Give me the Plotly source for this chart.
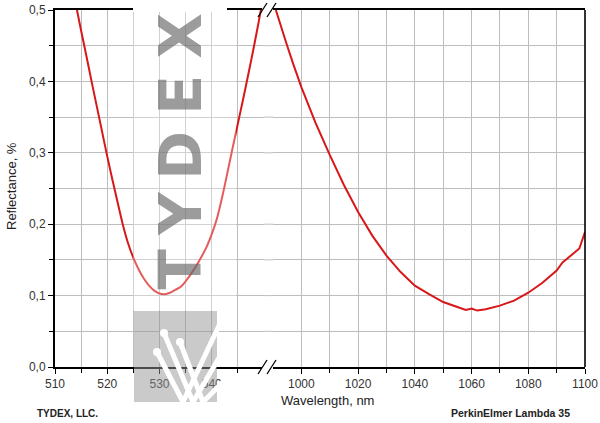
import plotly.graph_objects as go

# ---------------- data ----------------
left_nm = [514.2, 515, 516, 517, 518, 519, 520, 521, 522, 523, 524, 525, 526, 527,
           528, 529, 530, 531, 532, 533, 534, 535, 536, 537, 538, 539, 540, 541,
           542, 543, 544, 545, 546, 547, 548, 549, 549.4]
left_r = [0.500, 0.471, 0.436, 0.400, 0.365, 0.330, 0.295, 0.262, 0.230, 0.199, 0.173,
          0.153, 0.137, 0.124, 0.114, 0.107, 0.103, 0.102, 0.104, 0.108, 0.112, 0.120,
          0.130, 0.141, 0.154, 0.168, 0.186, 0.208, 0.238, 0.272, 0.307, 0.341, 0.375,
          0.410, 0.446, 0.484, 0.500]

right_nm = [991, 993, 995, 997, 1000, 1005, 1010, 1015, 1020, 1025, 1030, 1035, 1040,
            1045, 1050, 1055, 1058, 1060, 1062, 1065, 1070, 1075, 1078, 1080, 1085,
            1090, 1092, 1095, 1098, 1100]
right_r = [0.500, 0.474, 0.450, 0.426, 0.392, 0.342, 0.297, 0.255, 0.217, 0.184, 0.156,
           0.133, 0.114, 0.102, 0.091, 0.084, 0.080, 0.082, 0.079, 0.081, 0.086, 0.093,
           0.100, 0.104, 0.118, 0.135, 0.146, 0.156, 0.166, 0.189]

x_left_ticks = [510, 520, 530, 540]
x_left_minor = [515, 525, 535, 545]
x_right_ticks = [1000, 1020, 1040, 1060, 1080, 1100]
x_right_minor = [1010, 1030, 1050, 1070, 1090]
y_ticks = [0.0, 0.1, 0.2, 0.3, 0.4, 0.5]
y_labels = ["0,0", "0,1", "0,2", "0,3", "0,4", "0,5"]
y_minor = [0.05, 0.15, 0.25, 0.35, 0.45]

# ---------------- layout geometry ----------------
W, H = 600, 423
L, R, T, B = 55, 15, 10, 56
PW, PH = W - L - R, H - T - B


def px(x):
    return (x - L) / PW


def py(y):
    return (H - B - y) / PH


RED = "#d81818"
GRID = "#bdbdbd"
FONT = "Liberation Sans, Arial, sans-serif"

fig = go.Figure()
fig.add_trace(go.Scatter(x=left_nm, y=left_r, mode="lines", xaxis="x", yaxis="y",
                         line=dict(color=RED, width=2, shape="spline", smoothing=0.6),
                         showlegend=False))
fig.add_trace(go.Scatter(x=right_nm, y=right_r, mode="lines", xaxis="x2", yaxis="y",
                         line=dict(color=RED, width=2), showlegend=False))

common_x = dict(showline=True, linecolor="black", linewidth=1.6, mirror=True,
                ticks="outside", ticklen=5, tickwidth=1, tickcolor="black",
                showgrid=True, gridcolor=GRID, gridwidth=1, zeroline=False,
                tickfont=dict(family=FONT, size=12, color="#333"))

fig.update_layout(
    width=W, height=H,
    margin=dict(l=L, r=R, t=T, b=B, autoexpand=False),
    paper_bgcolor="white", plot_bgcolor="white",
    xaxis=dict(domain=[0, px(264)], range=[510, 550], anchor="y", automargin=False,
               tickmode="array", tickvals=x_left_ticks,
               minor=dict(tickmode="array", tickvals=x_left_minor, ticks="outside",
                          ticklen=4, tickcolor="black", showgrid=True, gridcolor=GRID),
               **common_x),
    xaxis2=dict(domain=[px(273), 1], range=[990, 1100], anchor="y", automargin=False,
                tickmode="array", tickvals=x_right_ticks,
                minor=dict(tickmode="array", tickvals=x_right_minor, ticks="outside",
                           ticklen=4, tickcolor="black", showgrid=True, gridcolor=GRID),
                **common_x),
    yaxis=dict(domain=[0, 1], range=[0, 0.5], anchor="x", automargin=False,
               showline=True, linecolor="black", linewidth=2,
               ticks="outside", ticklen=5, tickcolor="black",
               tickmode="array", tickvals=y_ticks, ticktext=y_labels,
               minor=dict(tickmode="array", tickvals=y_minor, ticks="outside",
                          ticklen=4, tickcolor="black", showgrid=True, gridcolor=GRID),
               showgrid=True, gridcolor=GRID, zeroline=False,
               tickfont=dict(family=FONT, size=12, color="#333")),
)

shapes = []
# horizontal grid continuing across the axis break
for v in y_ticks[1:-1] + y_minor:
    shapes.append(dict(type="line", xref="paper", yref="y", x0=px(264), x1=px(273),
                       y0=v, y1=v, line=dict(color=GRID, width=1), layer="below"))
# right border
shapes.append(dict(type="line", xref="paper", yref="paper", x0=1, x1=1, y0=0, y1=1,
                   line=dict(color="black", width=1.6), layer="above"))
# axis break marks (top and bottom)
for yb in (10, 367):
    shapes.append(dict(type="rect", xref="paper", yref="paper",
                       x0=px(262), x1=px(273), y0=py(yb + 2), y1=py(yb - 2),
                       fillcolor="white", line=dict(width=0), layer="above"))
    for x0 in (258, 267):
        shapes.append(dict(type="line", xref="paper", yref="paper",
                           x0=px(x0), x1=px(x0 + 9), y0=py(yb + 7), y1=py(yb - 7),
                           line=dict(color="black", width=1.3), layer="above"))

# watermark: translucent white column
shapes.append(dict(type="rect", xref="paper", yref="paper",
                   x0=px(133), x1=px(236), y0=py(310), y1=py(10),
                   fillcolor="rgba(255,255,255,0.3)", line=dict(width=0), layer="above"))
shapes.append(dict(type="rect", xref="paper", yref="paper",
                   x0=px(133), x1=px(227), y0=py(12), y1=py(7),
                   fillcolor="white", line=dict(width=0), layer="above"))
# watermark logo box
shapes.append(dict(type="rect", xref="paper", yref="paper",
                   x0=px(134), x1=px(217), y0=py(402), y1=py(311),
                   fillcolor="rgba(150,150,150,0.5)", line=dict(width=0), layer="above"))
logo_lines = [((157, 352), (183, 402)), ((164, 333), (193, 402)), ((180, 342), (203, 402)),
              ((183, 402), (224, 315)), ((193, 402), (226, 346)), ((203, 402), (227, 378))]
for (a, b) in logo_lines:
    shapes.append(dict(type="line", xref="paper", yref="paper",
                       x0=px(a[0]), y0=py(a[1]), x1=px(b[0]), y1=py(b[1]),
                       line=dict(color="white", width=5), layer="above"))
for (cx, cy) in [(157, 352), (164, 333), (180, 342)]:
    shapes.append(dict(type="circle", xref="paper", yref="paper",
                       x0=px(cx - 4), x1=px(cx + 4), y0=py(cy + 4), y1=py(cy - 4),
                       fillcolor="white", line=dict(width=0), layer="above"))

annotations = []
# watermark letters
for ch, cy in [("T", 269.5), ("Y", 214), ("D", 156), ("E", 95), ("X", 35.5)]:
    annotations.append(dict(text=ch, xref="paper", yref="paper", x=px(180), y=py(cy),
                            xanchor="center", yanchor="middle", showarrow=False,
                            textangle=-90,
                            font=dict(family="DejaVu Sans", size=59, weight="bold",
                                      color="rgba(105,105,105,0.66)")))
annotations += [
    dict(text="Reflectance, %", xref="paper", yref="paper", x=px(11), y=py(186),
         xanchor="center", yanchor="middle", showarrow=False, textangle=-90,
         font=dict(family=FONT, size=13, color="#222")),
    dict(text="Wavelength, nm", xref="paper", yref="paper", x=px(327), y=py(400),
         xanchor="center", yanchor="middle", showarrow=False,
         font=dict(family=FONT, size=13, color="#222")),
    dict(text="<b>TYDEX, LLC.</b>", xref="paper", yref="paper", x=px(35), y=py(413),
         xanchor="left", yanchor="middle", showarrow=False,
         font=dict(family=FONT, size=10, color="#222")),
    dict(text="<b>PerkinElmer Lambda 35</b>", xref="paper", yref="paper", x=px(572), y=py(413),
         xanchor="right", yanchor="middle", showarrow=False,
         font=dict(family=FONT, size=10.5, color="#222")),
]

fig.update_layout(shapes=shapes, annotations=annotations)
post = ("document.body.style.margin='0';document.body.style.padding='0';"
        "var g=document.getElementById('{plot_id}');"
        "g.style.position='absolute';g.style.left='0px';g.style.top='0px';")
fig.write_html("out.html", post_script=post, config={"displayModeBar": False})
